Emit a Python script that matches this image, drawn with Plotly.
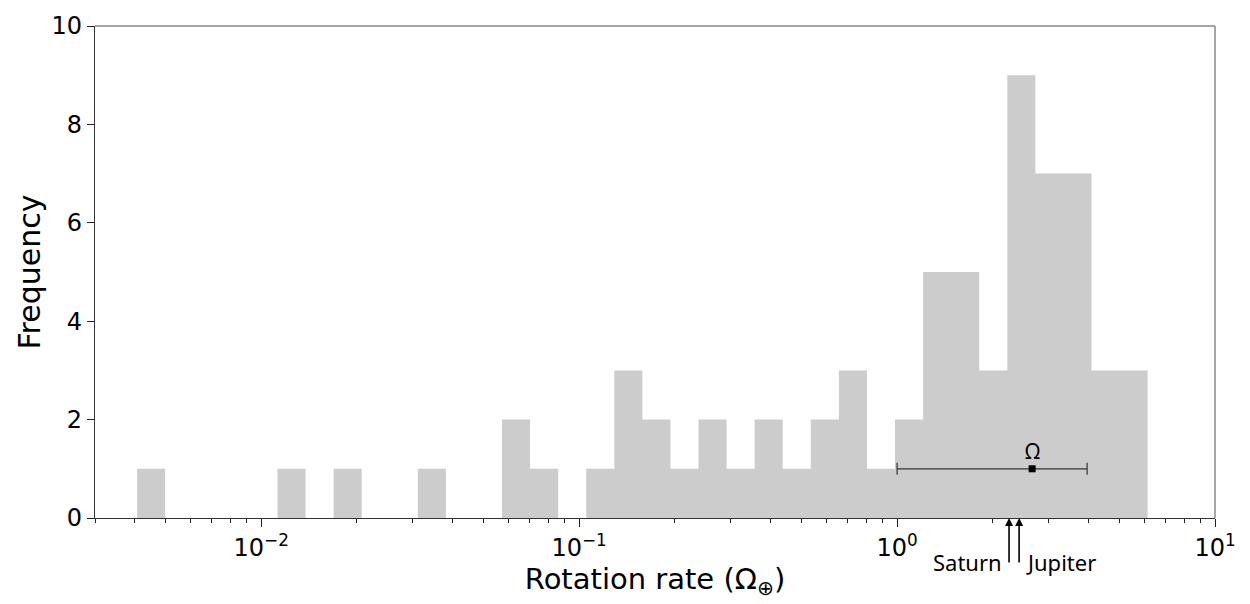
import numpy as np
import plotly.graph_objects as go

# ---- data ----
bin_lo = 0.00407      # left edge of first bin
bin_hi = 6.14         # right edge of last bin
counts = [1, 0, 0, 0, 0, 1, 0, 1, 0, 0, 1, 0, 0, 2, 1, 0, 1, 3,
          2, 1, 2, 1, 2, 1, 2, 3, 1, 2, 5, 5, 3, 9, 7, 7, 3, 3]
omega_val = 2.66
omega_lo = 1.0
omega_hi = 3.96
saturn = 2.25
jupiter = 2.42
major_ticks = [0.01, 0.1, 1, 10]
major_labels = ["10<sup>\u22122</sup>", "10<sup>\u22121</sup>", "10<sup>0</sup>", "10<sup>1</sup>"]
y_ticks = [0, 2, 4, 6, 8, 10]

edges = np.logspace(np.log10(bin_lo), np.log10(bin_hi), len(counts) + 1)
minor = [m * 10.0 ** e for e in range(-3, 1) for m in range(2, 10)]
minor = [v for v in minor if 0.003 <= v <= 10]

fig = go.Figure()
fig.add_trace(go.Scatter(
    x=edges, y=counts + [counts[-1]], mode="lines", line_shape="hv",
    line=dict(width=0, color="#cccccc"), fill="tozeroy", fillcolor="#cccccc",
    showlegend=False, hoverinfo="skip"))

fig.add_trace(go.Scatter(
    x=[omega_val], y=[1], mode="markers",
    marker=dict(symbol="square", size=7, color="black"),
    error_x=dict(type="data", symmetric=False, array=[omega_hi - omega_val],
                 arrayminus=[omega_val - omega_lo], color="#333333",
                 thickness=1.2, width=6),
    showlegend=False))

font_ax = "DejaVu Sans"
fig.update_layout(
    width=1250, height=604,
    margin=dict(l=95, r=35, t=23, b=86),
    plot_bgcolor="white", paper_bgcolor="white",
    xaxis=dict(type="log", range=[np.log10(0.003), 1],
               tickvals=major_ticks, ticktext=major_labels,
               ticks="outside", ticklen=8, tickwidth=1.2, tickcolor="#222",
               showline=True, linecolor="#333", linewidth=1.2,
               showgrid=False, zeroline=False,
               tickfont=dict(family=font_ax, size=24, color="black"),
               minor=dict(tickvals=minor, ticks="outside", ticklen=4,
                          tickwidth=1, tickcolor="#222", showgrid=False),
               title=dict(text="Rotation rate (\u03a9<sub>\u2295</sub>)",
                          font=dict(family=font_ax, size=29, color="black"),
                          standoff=0)),
    yaxis=dict(range=[0, 10], tickvals=y_ticks,
               ticks="outside", ticklen=7, tickwidth=1.2, tickcolor="#222",
               showline=True, linecolor="#333", linewidth=1.2,
               showgrid=False, zeroline=False,
               tickfont=dict(family=font_ax, size=24, color="black"),
               title=dict(text="Frequency",
                          font=dict(family=font_ax, size=30, color="black"),
                          standoff=2)),
    shapes=[
        dict(type="line", xref="paper", yref="paper", x0=0, x1=1, y0=1, y1=1,
             line=dict(color="#888", width=1.5)),
        dict(type="line", xref="paper", yref="paper", x0=1, x1=1, y0=0, y1=1,
             line=dict(color="#888", width=1.5)),
    ],
)

ann_font = dict(family="Noto Sans", size=22, color="black")
for v in (saturn, jupiter):
    fig.add_annotation(x=np.log10(v), y=0, xref="x", yref="y", text="",
                       showarrow=True, arrowhead=2, arrowsize=1, arrowwidth=1.6,
                       arrowcolor="black", ax=0, ay=46)
fig.add_annotation(x=np.log10(saturn), y=0, xref="x", yref="y", text="Saturn",
                   showarrow=False, xanchor="right", yanchor="middle",
                   xshift=-5, yshift=-44, font=ann_font)
fig.add_annotation(x=np.log10(jupiter), y=0, xref="x", yref="y", text="Jupiter",
                   showarrow=False, xanchor="left", yanchor="middle",
                   xshift=5, yshift=-44, font=ann_font)
fig.add_annotation(x=np.log10(omega_val), y=1, xref="x", yref="y", text="\u03a9",
                   showarrow=False, yanchor="bottom", yshift=2,
                   font=dict(family="Noto Sans", size=21, color="black"))

fig.write_html("out.html")
